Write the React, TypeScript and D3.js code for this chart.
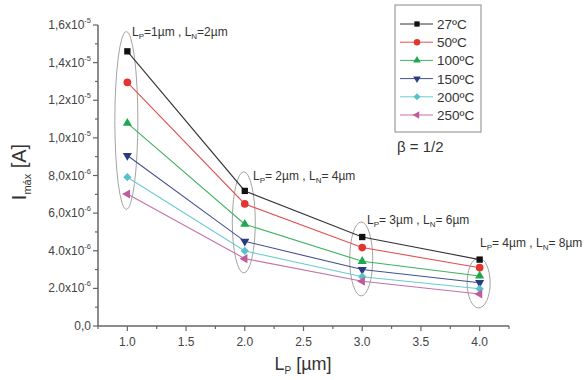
import React from 'react';
import * as d3 from 'd3';

// L_P values (µm) on the x axis
const lp = [1, 2, 3, 4];

const seriesNames = ['27ºC', '50ºC', '100ºC', '150ºC', '200ºC', '250ºC'];
const colors = ['#111111', '#e3342f', '#1fa64e', '#2c3c84', '#55c3c9', '#c05c9e'];
const lineColors = ['#333333', '#e35050', '#3db35f', '#44508f', '#6ccbd0', '#c472a8'];

// I_max [A]
const i27 = [1.46e-5, 7.18e-6, 4.73e-6, 3.53e-6];
const i50 = [1.295e-5, 6.49e-6, 4.17e-6, 3.1e-6];
const i100 = [1.078e-5, 5.41e-6, 3.44e-6, 2.66e-6];
const i150 = [9.06e-6, 4.5e-6, 3.0e-6, 2.3e-6];
const i200 = [7.91e-6, 3.99e-6, 2.62e-6, 1.98e-6];
const i250 = [7.02e-6, 3.58e-6, 2.38e-6, 1.7e-6];
const seriesValues = [i27, i50, i100, i150, i200, i250];

const yTicks = [0, 2e-6, 4e-6, 6e-6, 8e-6, 1e-5, 1.2e-5, 1.4e-5, 1.6e-5];
const yTickMant = ['0,0', '2.0x10', '4.0x10', '6,0x10', '8,0x10', '1,0x10', '1,2x10', '1,4x10', '1,6x10'];
const yTickExp = ['', '-6', '-6', '-6', '-6', '-5', '-5', '-5', '-5'];
const xTicks = [1.0, 1.5, 2.0, 2.5, 3.0, 3.5, 4.0];

// ellipses grouping the points of each geometry: [x, top, bottom]
const groupX = [1, 2, 3, 4];
const groupTop = [1.565e-5, 8.2e-6, 5.53e-6, 3.62e-6];
const groupBottom = [6.2e-6, 2.82e-6, 1.6e-6, 0.96e-6];

const symbols = [
  { type: d3.symbolSquare, rot: 0, size: 40 },
  { type: d3.symbolCircle, rot: 0, size: 46 },
  { type: d3.symbolTriangle, rot: 0, size: 36 },
  { type: d3.symbolTriangle, rot: 180, size: 36 },
  { type: d3.symbolSquare, rot: 45, size: 34 },
  { type: d3.symbolTriangle, rot: -90, size: 36 },
];

const font = 'Arial, "Liberation Sans", Helvetica, sans-serif';

export default function App() {
  const x = d3.scaleLinear().domain([0.75, 4.25]).range([98, 509]);
  const y = d3.scaleLinear().domain([0, 1.6e-5]).range([326, 25]);
  const axisColor = '#666';

  const line = d3.line<number>()
    .x((_, i) => x(lp[i]))
    .y(d => y(d));

  const minorX = d3.range(0.75, 4.26, 0.5);
  const minorY = d3.range(1e-6, 1.6e-5, 2e-6);

  const annot = [
    { x: 132, y: 36, lp: '=1µm , L', ln: '=2µm' },
    { x: 253, y: 180, lp: '= 2µm , L', ln: '= 4µm' },
    { x: 367, y: 224, lp: '= 3µm , L', ln: '= 6µm' },
    { x: 480, y: 247, lp: '= 4µm , L', ln: '= 8µm' },
  ];

  return (
    <svg width={587} height={380} style={{ position: 'absolute', left: 0, top: 0, background: '#fff' }}
      fontFamily={font}>
      {/* ellipses */}
      {groupX.map((gx, i) => {
        const cy = (y(groupTop[i]) + y(groupBottom[i])) / 2;
        const ry = (y(groupBottom[i]) - y(groupTop[i])) / 2;
        return <ellipse key={'e' + i} cx={x(gx) - 1} cy={cy} rx={11.5} ry={ry}
          fill="none" stroke="#999" strokeWidth={0.9} />;
      })}

      {/* series lines */}
      {seriesValues.map((vals, s) => (
        <path key={'l' + s} d={line(vals) || ''} fill="none" stroke={lineColors[s]} strokeWidth={1.1} />
      ))}
      {seriesValues.map((vals, s) => vals.map((v, i) => (
        <path key={'m' + s + '-' + i}
          d={d3.symbol().type(symbols[s].type).size(symbols[s].size)() || ''}
          transform={`translate(${x(lp[i])},${y(v)}) rotate(${symbols[s].rot})`}
          fill={colors[s]} />
      )))}

      {/* axes */}
      <line x1={x(0.75)} x2={x(0.75)} y1={y(0)} y2={y(1.6e-5)} stroke={axisColor} strokeWidth={1.5} />
      <line x1={x(0.75)} x2={x(4.25)} y1={y(0)} y2={y(0)} stroke={axisColor} strokeWidth={1.5} />
      {yTicks.map((t, i) => (
        <g key={'yt' + i}>
          <line x1={x(0.75) - 5} x2={x(0.75)} y1={y(t)} y2={y(t)} stroke={axisColor} strokeWidth={1.2} />
          <text x={91} y={y(t) + 4} textAnchor="end" fontSize={12} fill="#444">
            {yTickMant[i]}
            {yTickExp[i] && <tspan fontSize={7.5} dy={-6}>{yTickExp[i]}</tspan>}
          </text>
        </g>
      ))}
      {minorY.map((t, i) => (
        <line key={'ym' + i} x1={x(0.75) - 3} x2={x(0.75)} y1={y(t)} y2={y(t)} stroke={axisColor} strokeWidth={1.2} />
      ))}
      {xTicks.map((t, i) => (
        <g key={'xt' + i}>
          <line x1={x(t)} x2={x(t)} y1={y(0)} y2={y(0) + 5} stroke={axisColor} strokeWidth={1.2} />
          <text x={x(t)} y={346} textAnchor="middle" fontSize={12} fill="#444">{d3.format('.1f')(t)}</text>
        </g>
      ))}
      {minorX.map((t, i) => (
        <line key={'xm' + i} x1={x(t)} x2={x(t)} y1={y(0)} y2={y(0) + 3} stroke={axisColor} strokeWidth={1.2} />
      ))}

      {/* axis titles */}
      <text x={303} y={370} textAnchor="middle" fontSize={18} fill="#333">
        L<tspan fontSize={10} dy={4}>P</tspan><tspan dy={-4}> [µm]</tspan>
      </text>
      <text transform="translate(26,172) rotate(-90)" textAnchor="middle" fontSize={20} fill="#333">
        I<tspan fontSize={11} dy={5}>máx</tspan><tspan dy={-5}> [A]</tspan>
      </text>

      {/* group annotations */}
      {annot.map((a, i) => (
        <text key={'a' + i} x={a.x} y={a.y} fontSize={12} fill="#333">
          L<tspan fontSize={8} dy={3}>P</tspan><tspan dy={-3}>{a.lp}</tspan>
          <tspan fontSize={8} dy={3}>N</tspan><tspan dy={-3}>{a.ln}</tspan>
        </text>
      ))}

      {/* legend */}
      <rect x={395} y={5} width={86} height={127} fill="#fff" stroke="#888" strokeWidth={1} />
      {seriesNames.map((name, s) => {
        const ly = 24 + s * 18.2;
        return (
          <g key={'lg' + s}>
            <line x1={400} x2={433} y1={ly} y2={ly} stroke={lineColors[s]} strokeWidth={1} />
            <path d={d3.symbol().type(symbols[s].type).size(symbols[s].size * 0.7)() || ''}
              transform={`translate(417,${ly}) rotate(${symbols[s].rot})`} fill={colors[s]} />
            <text x={437} y={ly + 5} fontSize={13.5} fill="#333">{name}</text>
          </g>
        );
      })}
      <text x={397} y={152} fontSize={15} fill="#333">β = 1/2</text>
    </svg>
  );
}
